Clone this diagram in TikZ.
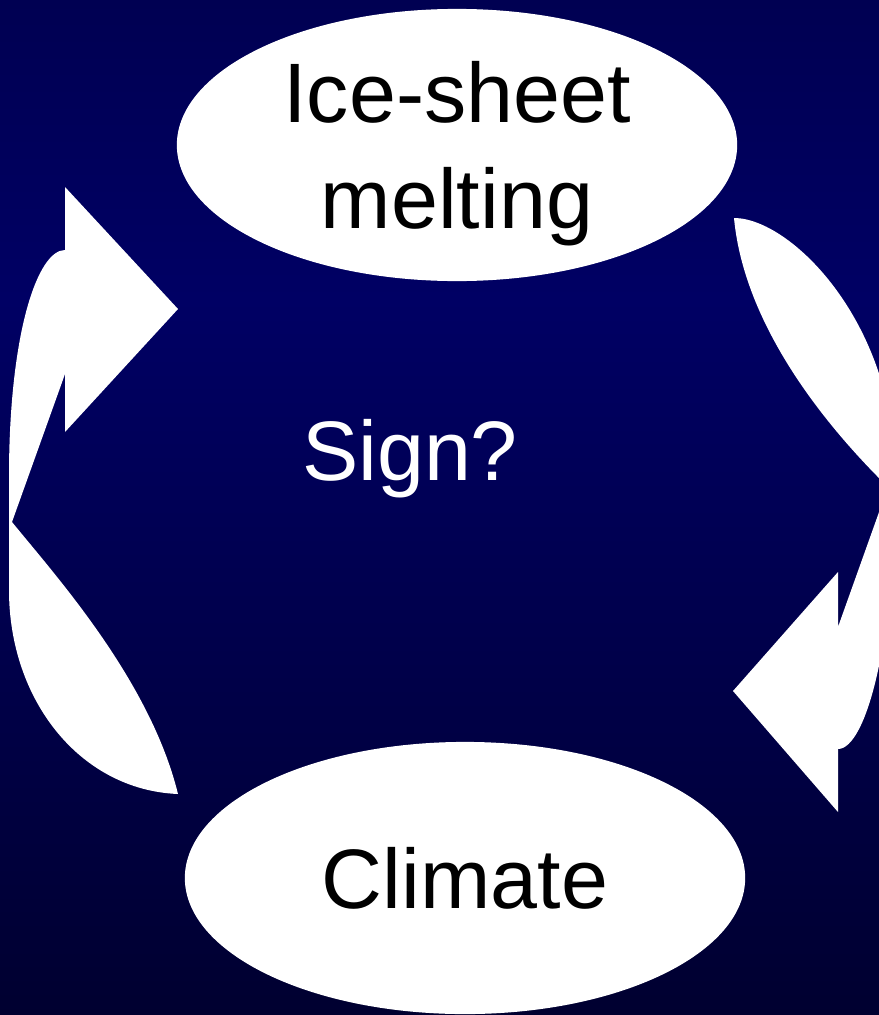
\documentclass[tikz,border=0pt]{standalone}
\usepackage{fontspec}
\setmainfont{Liberation Sans}
\usepackage{tikz}
\usetikzlibrary{shapes.geometric}

\definecolor{navytop}{RGB}{0,0,82}
\definecolor{navymid}{RGB}{0,0,100}
\definecolor{navybot}{RGB}{0,0,48}

\begin{document}
\begin{tikzpicture}[x=0.01cm, y=-0.01cm,
    bubble/.style={ellipse, fill=white, inner sep=0pt, minimum width=5.6cm,
        minimum height=2.72cm, align=center, text depth=0pt,
        font=\fontsize{24}{30}\selectfont},
    bentarrow/.style={fill=white}]
    % 背景渐变
    \useasboundingbox (0,0) rectangle (879,1015);
    \clip (0,0) rectangle (879,1015);
    \shade[top color=navytop, bottom color=navymid] (0,0) rectangle (879,300);
    \shade[top color=navymid, bottom color=navybot] (0,299.5) rectangle (879,1015);

    % 左侧弯箭头 (向上)
    \fill[bentarrow] (178,794) .. controls (80,790) and (9,700) .. (9,590)
        -- (9,470) .. controls (10,330) and (38,250) .. (65,250)
        -- (65,187) -- (178,309) -- (65,432) -- (65,374)
        -- (12,522) .. controls (55,575) and (150,680) .. (178,794) -- cycle;

    % 右侧弯箭头 (向下)
    \fill[bentarrow] (734,218) .. controls (790,218) and (893,320) .. (895,470)
        .. controls (896,640) and (866,749) .. (838,749)
        -- (838,812) -- (733,691) -- (838,572) -- (838,627)
        -- (888,487) .. controls (840,440) and (745,335) .. (734,218) -- cycle;

    % 两个椭圆
    \node[bubble] (melt) at (457,145) {Ice-sheet\\melting};
    \node[bubble] (climate) at (465,878) {Climate};

    % 中间的问号
    \node[white, anchor=base, font=\fontsize{24}{30}\selectfont] (sign) at (410,480) {Sign?};
\end{tikzpicture}
\end{document}
